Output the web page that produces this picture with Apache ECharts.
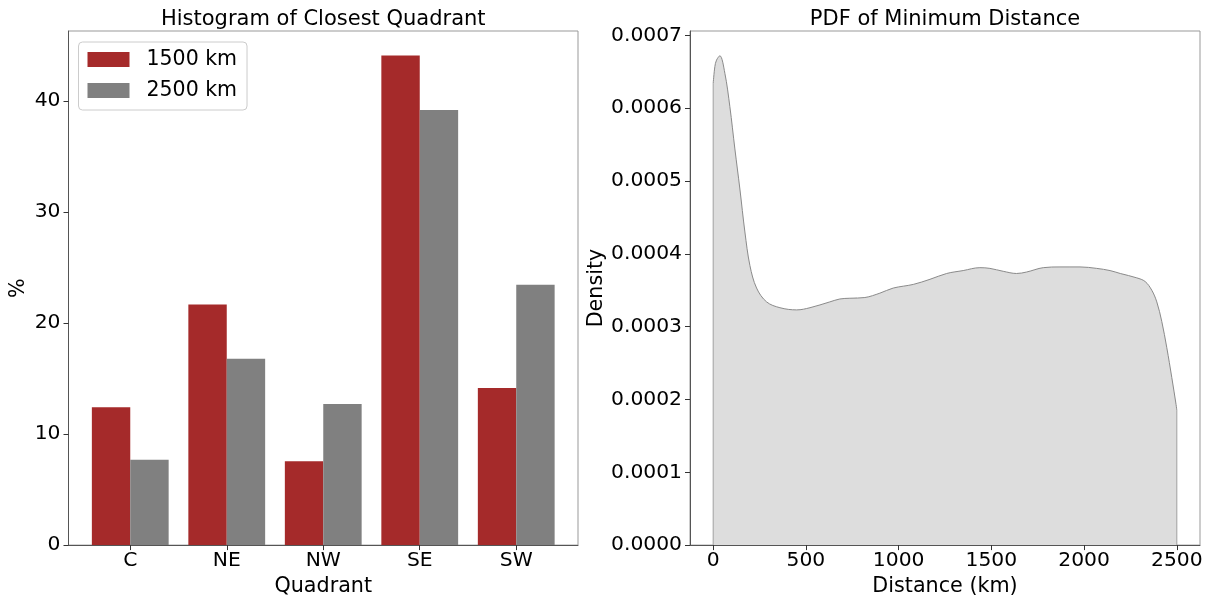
<!DOCTYPE html>
<html><head><meta charset="utf-8">
<script src="https://cdn.jsdelivr.net/npm/echarts@6/dist/echarts.min.js"></script>
<style>html,body{margin:0;padding:0;background:#fff}#c{width:1208px;height:602px}</style>
</head><body><div id="c"></div>
<script>
// ---- data ----
const quadrants = ['C', 'NE', 'NW', 'SE', 'SW'];
const pct1500 = [12.42, 21.67, 7.56, 44.11, 14.15];
const pct2500 = [7.70, 16.80, 12.71, 39.21, 23.46];
const barTicks = [0, 10, 20, 30, 40];
const quadTicks = [0, 1, 2, 3, 4];
const distKm = [0, 9, 18, 36, 63, 90, 117, 144, 171, 198, 234, 288, 360, 450, 522, 629, 683, 737, 818, 899, 971, 1079, 1169, 1259, 1348, 1438, 1492, 1564, 1636, 1690, 1780, 1870, 1978, 2068, 2140, 2195, 2284, 2329, 2365, 2392, 2419, 2446, 2473, 2496, 2500];
const density = [0.000634, 0.000657, 0.000666, 0.000672, 0.000648, 0.000602, 0.000544, 0.000489, 0.000430, 0.000384, 0.000353, 0.000334, 0.000326, 0.000323, 0.000326, 0.000334, 0.000338, 0.000339, 0.000340, 0.000346, 0.000353, 0.000358, 0.000365, 0.000373, 0.000377, 0.000381, 0.000380, 0.000376, 0.000373, 0.000375, 0.000381, 0.000382, 0.000382, 0.000380, 0.000377, 0.000373, 0.000367, 0.000362, 0.000350, 0.000334, 0.000307, 0.000271, 0.000230, 0.000193, 0.000185];
const distTicks = [0, 500, 1000, 1500, 2000, 2500];
const densTicks = [0, 0.0001, 0.0002, 0.0003, 0.0004, 0.0005, 0.0006, 0.0007];

const FONT = 'DejaVu Sans';
const TICK_FS = 20.3;
const NAME_FS = 20.7;
const chart = echarts.init(document.getElementById('c'), null, {renderer: 'canvas'});

function axisCommon() {
  return {
    axisLine: {show: true, onZero: false, lineStyle: {color: '#555', width: 1}},
    splitLine: {show: false},
    z: 10
  };
}

const last = distKm.length - 1;
const option = {
  animation: false,
  backgroundColor: '#fff',
  textStyle: {fontFamily: FONT},
  graphic: [
    {type: 'text', x: 323.25, y: 19.5, style: {text: 'Histogram of Closest Quadrant', fontSize: 21, fontFamily: FONT, fill: '#000', align: 'center', verticalAlign: 'middle'}},
    {type: 'text', x: 945, y: 19.5, style: {text: 'PDF of Minimum Distance', fontSize: 21, fontFamily: FONT, fill: '#000', align: 'center', verticalAlign: 'middle'}}
  ],
  legend: {
    left: 78.5, top: 42, orient: 'vertical',
    itemWidth: 42, itemHeight: 15, itemGap: 10,
    padding: [7, 10, 9, 9],
    borderColor: '#cccccc', borderWidth: 1, borderRadius: 4, backgroundColor: '#fff',
    icon: 'rect',
    textStyle: {fontSize: 20.5, fontFamily: FONT, color: '#000', padding: [0, 0, 0, 12]},
    data: ['1500 km', '2500 km']
  },
  grid: [
    {left: 68.5, top: 31, right: 630, bottom: 53.5, show: true, borderColor: '#999', borderWidth: 1, backgroundColor: 'transparent'},
    {left: 690, top: 31, right: 8, bottom: 53.5, show: true, borderColor: '#999', borderWidth: 1, backgroundColor: 'transparent'}
  ],
  xAxis: [
    Object.assign(axisCommon(), {
      type: 'value', gridIndex: 0, min: -0.64, max: 4.64,
      axisTick: {show: true, length: 5, customValues: quadTicks, lineStyle: {color: '#333'}},
      axisLabel: {customValues: quadTicks, formatter: v => quadrants[Math.round(v)], fontSize: TICK_FS, color: '#000', margin: 6, fontFamily: FONT},
      name: 'Quadrant', nameLocation: 'middle', nameGap: 29,
      nameTextStyle: {fontSize: NAME_FS, color: '#000', fontFamily: FONT}
    }),
    Object.assign(axisCommon(), {
      type: 'value', gridIndex: 1, min: -125, max: 2625,
      axisTick: {show: true, length: 5, customValues: distTicks, lineStyle: {color: '#333'}},
      axisLabel: {customValues: distTicks, formatter: v => String(Math.round(v)), fontSize: TICK_FS, color: '#000', margin: 6, fontFamily: FONT},
      name: 'Distance (km)', nameLocation: 'middle', nameGap: 29,
      nameTextStyle: {fontSize: NAME_FS, color: '#000', fontFamily: FONT}
    })
  ],
  yAxis: [
    Object.assign(axisCommon(), {
      type: 'value', gridIndex: 0, min: 0, max: 46.32,
      axisTick: {show: true, length: 5, customValues: barTicks, lineStyle: {color: '#333'}},
      axisLabel: {customValues: barTicks, fontSize: TICK_FS, color: '#000', margin: 8, fontFamily: FONT},
      name: '%', nameLocation: 'middle', nameGap: 39,
      nameTextStyle: {fontSize: NAME_FS, color: '#000', fontFamily: FONT}
    }),
    Object.assign(axisCommon(), {
      type: 'value', gridIndex: 1, min: 0, max: 0.000706,
      axisTick: {show: true, length: 5, customValues: densTicks, lineStyle: {color: '#333'}},
      axisLabel: {customValues: densTicks, formatter: v => v.toFixed(4), fontSize: TICK_FS, color: '#000', margin: 8, fontFamily: FONT},
      name: 'Density', nameLocation: 'middle', nameGap: 83,
      nameTextStyle: {fontSize: NAME_FS, color: '#000', fontFamily: FONT}
    })
  ],
  series: [
    {
      type: 'bar', name: '1500 km', xAxisIndex: 0, yAxisIndex: 0,
      data: quadrants.map((q, i) => [i, pct1500[i]]),
      barWidth: 38.4, barGap: '0%',
      itemStyle: {color: '#a52a2a'}
    },
    {
      type: 'bar', name: '2500 km', xAxisIndex: 0, yAxisIndex: 0,
      data: quadrants.map((q, i) => [i, pct2500[i]]),
      barWidth: 38.4, barGap: '0%',
      itemStyle: {color: '#808080'}
    },
    {
      type: 'line', name: 'pdf', xAxisIndex: 1, yAxisIndex: 1,
      data: distKm.map((x, i) => [x, density[i]]),
      smooth: 0.35, showSymbol: false, symbol: 'none',
      lineStyle: {color: '#8a8a8a', width: 1},
      areaStyle: {color: '#dddddd', opacity: 1},
      z: 2
    },
    {
      type: 'line', name: 'edgeL', xAxisIndex: 1, yAxisIndex: 1,
      data: [[distKm[0], 0], [distKm[0], density[0]]],
      showSymbol: false, symbol: 'none', lineStyle: {color: '#a0a0a0', width: 1}, z: 3
    },
    {
      type: 'line', name: 'edgeR', xAxisIndex: 1, yAxisIndex: 1,
      data: [[distKm[last], 0], [distKm[last], density[last]]],
      showSymbol: false, symbol: 'none', lineStyle: {color: '#a0a0a0', width: 1}, z: 3
    }
  ]
};
chart.setOption(option);
</script>
</body></html>
